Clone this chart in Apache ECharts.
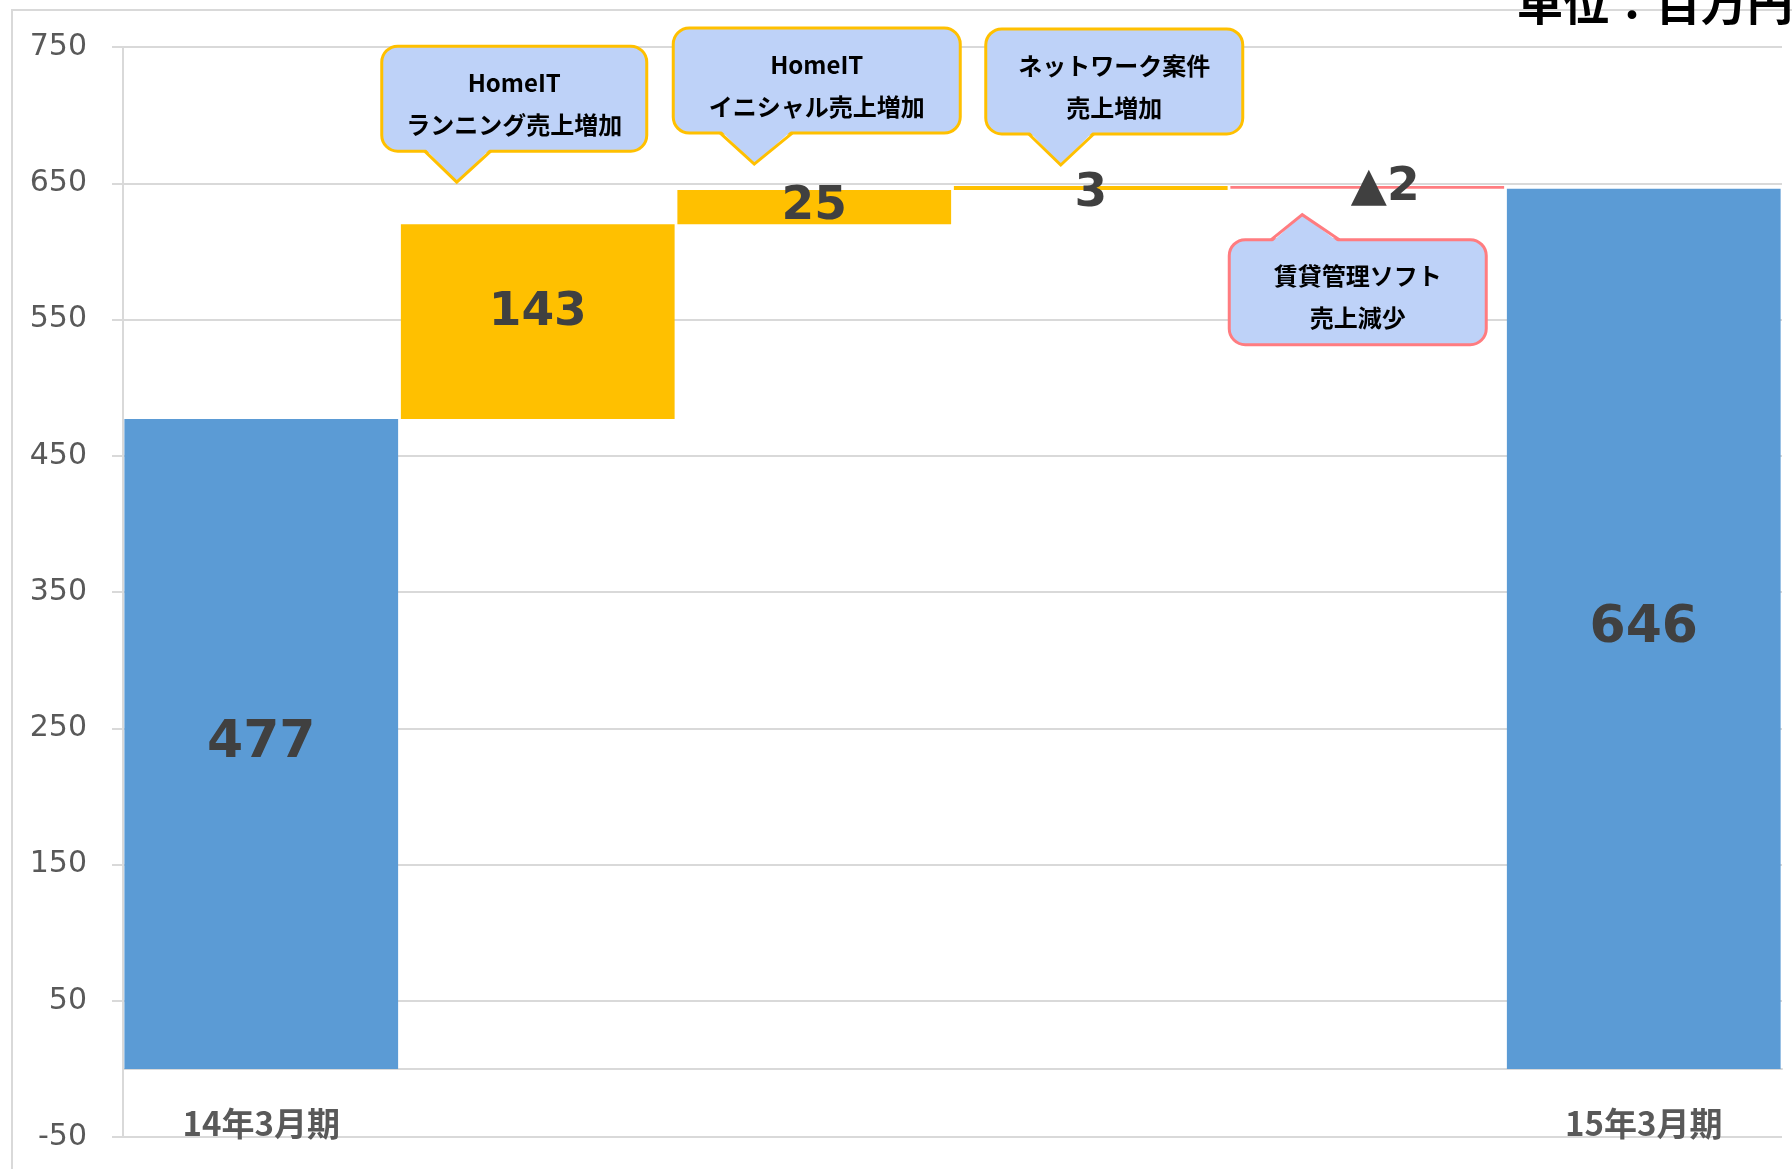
<!DOCTYPE html>
<html>
<head>
<meta charset="utf-8">
<script src="https://cdn.jsdelivr.net/npm/echarts@6/dist/echarts.min.js"></script>
<style>
html,body{margin:0;padding:0;background:#fff;}
#chart{width:1792px;height:1169px;}
</style>
</head>
<body>
<div id="chart"></div>
<script>
// ---- data ----
const categories = ['14年3月期', 'HomeITランニング売上増加', 'HomeITイニシャル売上増加', 'ネットワーク案件売上増加', '賃貸管理ソフト売上減少', '15年3月期'];
const startValue = 477;
const changes = [143, 25, 3, -2];
const endValue = 646;
const valueLabels = ['477', '143', '25', '3', '▲2', '646'];
const shownAxisLabels = ['14年3月期', '15年3月期'];
const calloutLines = [
  ['HomeIT', 'ランニング売上増加'],
  ['HomeIT', 'イニシャル売上増加'],
  ['ネットワーク案件', '売上増加'],
  ['賃貸管理ソフト', '売上減少']
];
const unitText = '単位：百万円';

// ---- build waterfall from data ----
const base = [0];
const heights = [startValue];
const calloutAnchors = [];
let cum = startValue;
changes.forEach(function (c, i) {
  if (c >= 0) {
    base.push(cum); heights.push(c); cum += c;
    calloutAnchors.push([i + 1, cum]);
  } else {
    cum += c; base.push(cum); heights.push(-c);
    calloutAnchors.push([i + 1, cum]);
  }
});
base.push(0); heights.push(endValue);

const BLUE = '#5B9BD5', YELLOW = '#FFC000', PINK = '#FF7C80';
const barColors = heights.map(function (h, i) {
  if (i === 0 || i === heights.length - 1) return BLUE;
  return changes[i - 1] >= 0 ? YELLOW : PINK;
});

// label styling per bar (pixel offsets / sizes)
const labelOffsets = [[0, 0], [0, -9], [0, 0], [0, 6], [18, 0], [0, 0]];
const labelSizes = [52, 47, 47, 47, 47, 52];

// callout styling (pixel offsets relative to anchor)
const calloutStyle = [
  {tipDx: -81, tipDy: -42, boxLeft: -75, w: 265, gap: 31, bL: -32, bR: 34, border: YELLOW},
  {tipDx: -60, tipDy: -26, boxLeft: -81, w: 287, gap: 31, bL: -34, bR: 38, border: YELLOW},
  {tipDx: -30, tipDy: -21, boxLeft: -75, w: 257, gap: 31, bL: -32, bR: 33, border: YELLOW},
  {tipDx: -65, tipDy: 26, boxLeft: -73, w: 257, gap: 25, bL: -31, bR: 37, border: PINK}
];
const BOX_H = 105;
const FILL = '#BED2F8';

const chart = echarts.init(document.getElementById('chart'));

function renderCallout(params, api) {
  const i = params.dataIndex;
  const s = calloutStyle[i];
  const p = api.coord([api.value(0), api.value(1)]);
  const tx = p[0] + s.tipDx;
  const ty = p[1] + s.tipDy;
  const down = s.tipDy < 0;
  const boxX = tx + s.boxLeft;
  const boxY = down ? ty - s.gap - BOX_H : ty + s.gap;
  const edgeY = down ? boxY + BOX_H : boxY;
  const cover = down ? -3 : 3;
  const cx = boxX + s.w / 2;
  const cy = boxY + BOX_H / 2;
  const textStyle = function (t, y) {
    return {
      type: 'text',
      style: {
        text: t, x: cx, y: y,
        align: 'center', verticalAlign: 'middle',
        fontFamily: '"Noto Sans CJK JP", sans-serif',
        fontWeight: 'bold', fontSize: 24, fill: '#000'
      }
    };
  };
  return {
    type: 'group',
    children: [
      {type: 'rect', shape: {x: boxX, y: boxY, width: s.w, height: BOX_H, r: 16},
        style: {fill: FILL, stroke: s.border, lineWidth: 3}},
      {type: 'polygon', shape: {points: [[tx + s.bL, edgeY + cover], [tx + s.bR, edgeY + cover], [tx, ty]]},
        style: {fill: FILL}},
      {type: 'polyline', shape: {points: [[tx + s.bL, edgeY], [tx, ty], [tx + s.bR, edgeY]]},
        style: {fill: 'none', stroke: s.border, lineWidth: 3}},
      textStyle(calloutLines[i][0], cy - 16),
      textStyle(calloutLines[i][1], cy + 26)
    ]
  };
}

const option = {
  backgroundColor: '#fff',
  animation: false,
  grid: {left: 123, right: 10, top: 47, bottom: 32, containLabel: false, outerBoundsMode: 'none'},
  xAxis: {
    type: 'category',
    data: categories,
    axisLine: {show: true, onZero: true, lineStyle: {color: '#D9D9D9', width: 2}},
    axisTick: {show: false},
    axisLabel: {
      margin: -30,
      interval: 0,
      color: '#595959',
      fontSize: 33,
      fontWeight: 'bold',
      fontFamily: '"Noto Sans CJK JP", sans-serif',
      formatter: function (v) { return shownAxisLabels.indexOf(v) >= 0 ? v : ''; }
    }
  },
  yAxis: {
    type: 'value',
    min: -50,
    max: 750,
    interval: 100,
    axisLine: {show: true, lineStyle: {color: '#D9D9D9', width: 2}},
    axisTick: {show: true, length: 11, lineStyle: {color: '#D9D9D9', width: 2}},
    splitLine: {show: true, lineStyle: {color: '#D9D9D9', width: 2}},
    axisLabel: {
      margin: 36,
      color: '#595959',
      fontSize: 30,
      fontFamily: '"DejaVu Sans", sans-serif'
    }
  },
  series: [
    {
      type: 'bar',
      stack: 'wf',
      data: base,
      itemStyle: {color: 'transparent'},
      barCategoryGap: '1%',
      silent: true
    },
    {
      type: 'bar',
      stack: 'wf',
      barCategoryGap: '1%',
      data: heights.map(function (h, i) {
        return {
          value: h,
          itemStyle: {color: barColors[i]},
          label: {
            show: true,
            position: 'inside',
            formatter: valueLabels[i],
            color: '#404040',
            fontFamily: '"DejaVu Sans", sans-serif',
            fontWeight: 'bold',
            fontSize: labelSizes[i],
            offset: labelOffsets[i]
          }
        };
      })
    },
    {
      type: 'custom',
      coordinateSystem: 'cartesian2d',
      clip: false,
      z: 10,
      silent: true,
      data: calloutAnchors,
      renderItem: renderCallout
    }
  ],
  graphic: [
    {
      type: 'rect',
      shape: {x: 12, y: 10, width: 1900, height: 1300},
      style: {fill: 'none', stroke: '#D9D9D9', lineWidth: 2},
      silent: true,
      z: -10
    },
    {
      type: 'text',
      x: 1517, y: 3,
      style: {
        text: unitText,
        verticalAlign: 'middle',
        align: 'left',
        fontFamily: '"Noto Sans CJK JP", sans-serif',
        fontWeight: 'bold',
        fontSize: 46,
        fill: '#000'
      },
      z: 20
    }
  ]
};
chart.setOption(option);
</script>
</body>
</html>
